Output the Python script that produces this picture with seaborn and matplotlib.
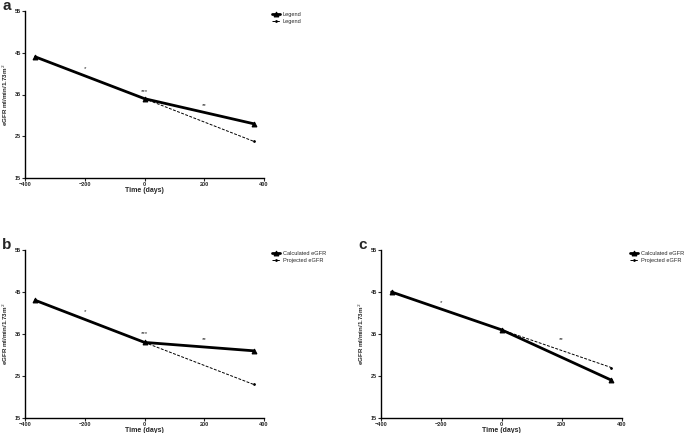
import matplotlib
matplotlib.use("Agg")
import matplotlib.pyplot as plt
import seaborn as sns
import pandas as pd

sns.set_style("ticks")
plt.rcParams['font.family'] = ['Liberation Sans', 'DejaVu Sans']

# ---- data ----
days = [-365, 0, 365]
proj_days = [0, 365]

a_calc = [44.0, 34.0, 28.0]
a_proj = [34.0, 23.8]
b_calc = [43.0, 33.0, 31.0]
b_proj = [33.0, 23.0]
c_calc = [45.0, 36.0, 24.0]
c_proj = [36.0, 27.0]

a_labels = ["Legend", "Legend"]
bc_labels = ["Calculated eGFR", "Projected eGFR"]

a_stars = [(-200, 41.2, "*"), (0, 35.7, "***"), (200, 32.4, "**")]
b_stars = [(-200, 40.4, "*"), (0, 35.1, "***"), (200, 33.6, "**")]
c_stars = [(-200, 42.6, "*"), (200, 33.6, "**")]

xticks = [-400, -200, 0, 200, 400]
yticks = [15, 25, 35, 45, 55]

W, H = 685, 433
fig = plt.figure(figsize=(W / 100, H / 100), dpi=100)


def px_axes(l, t, r, b):
    return fig.add_axes([l / W, 1 - b / H, (r - l) / W, (b - t) / H])


def draw(ax, calc, proj, labels, stars, letter):
    df_c = pd.DataFrame({"x": days, "y": calc})
    df_p = pd.DataFrame({"x": proj_days, "y": proj})
    sns.lineplot(data=df_c, x="x", y="y", ax=ax, color="black", lw=2.0,
                 marker="^", markersize=3.5, markeredgecolor="black",
                 label=labels[0], zorder=3)
    sns.lineplot(data=df_p, x="x", y="y", ax=ax, color="black", lw=0.7,
                 linestyle=(0, (3, 1.5)), marker="o", markersize=1.2,
                 markeredgecolor="black", label=labels[1], zorder=2)
    for x, y, s in stars:
        ax.text(x, y, s, ha="center", va="center", fontsize=4.5)
    ax.set_xlim(-400, 400)
    ax.set_ylim(15, 55)
    ax.set_xticks(xticks)
    ax.set_yticks(yticks)
    ax.tick_params(labelsize=4, length=2, width=0.8, pad=1)
    for lab in ax.get_xticklabels() + ax.get_yticklabels():
        lab.set_fontweight("bold")
    for sp in ["top", "right"]:
        ax.spines[sp].set_visible(False)
    for sp in ["left", "bottom"]:
        ax.spines[sp].set_linewidth(1.0)
        ax.spines[sp].set_color("black")
    ax.set_xlabel("Time (days)", fontsize=5, fontweight="bold", labelpad=0)
    ax.set_ylabel("eGFR ml/min/1.73m$^{2}$", fontsize=4.5, fontweight="bold",
                  labelpad=3)
    ax.legend(loc="upper left", bbox_to_anchor=(1.025, 1.01),
              frameon=False, fontsize=4.1, handlelength=1.3,
              handletextpad=0.5, labelspacing=0.45, borderaxespad=0)
    ax.text(-0.095, 1.03, letter, transform=ax.transAxes, fontsize=11,
            fontweight="bold", ha="left", va="center")


ax_a = px_axes(25, 11, 264, 178)
draw(ax_a, a_calc, a_proj, a_labels, a_stars, "a")
ax_b = px_axes(25, 250, 264, 418)
draw(ax_b, b_calc, b_proj, bc_labels, b_stars, "b")
ax_c = px_axes(381, 250, 622, 418)
draw(ax_c, c_calc, c_proj, bc_labels, c_stars, "c")

fig.savefig("out.png", dpi=100)
